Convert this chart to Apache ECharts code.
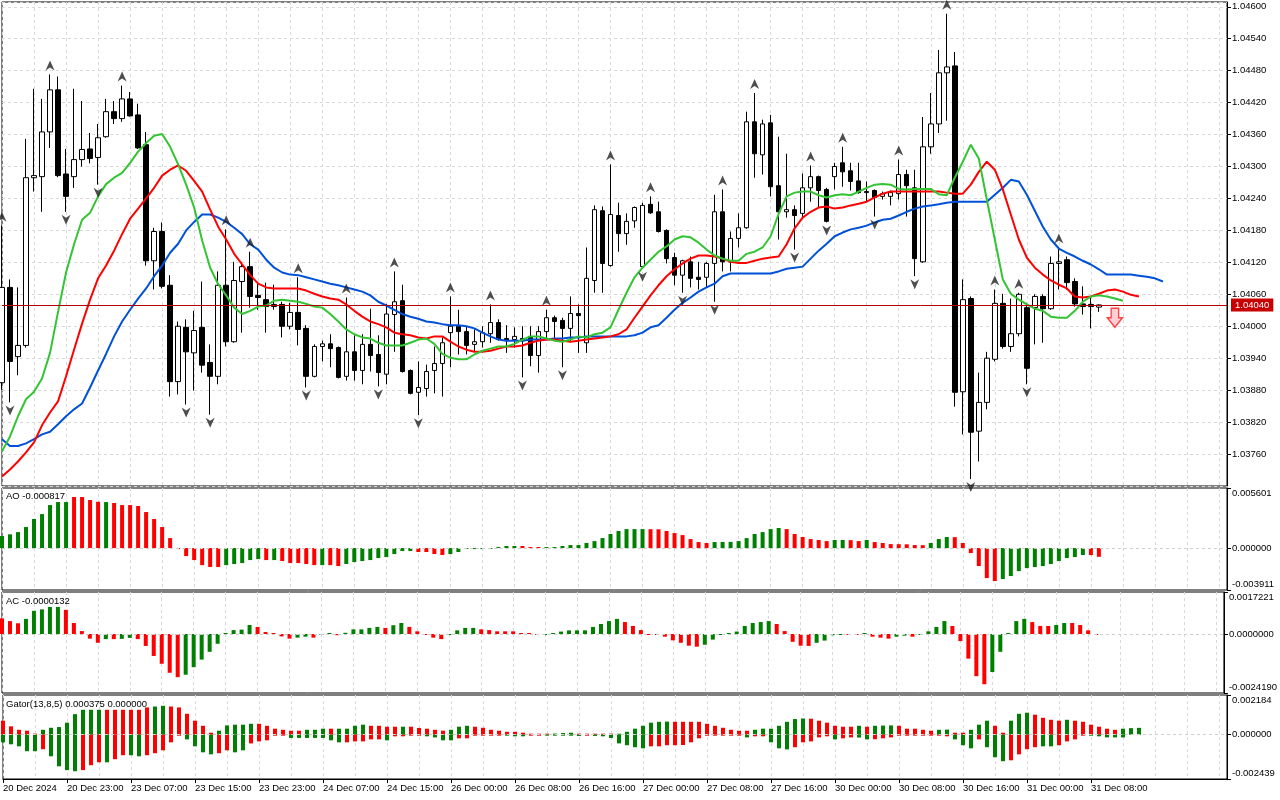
<!DOCTYPE html>
<html>
<head>
<meta charset="utf-8">
<title>EURUSD H1 - Alligator, AO, AC, Gator</title>
<script src="https://cdn.jsdelivr.net/npm/echarts@6/dist/echarts.min.js"></script>
<style>
  html, body { margin: 0; padding: 0; background: #fff; }
  #chart { width: 1280px; height: 800px; }
</style>
</head>
<body>
<div id="chart"></div>
<script>
// time axis labels, one every 8 hourly bars
const timeLabels = ['20 Dec 2024', '20 Dec 23:00', '23 Dec 07:00', '23 Dec 15:00', '23 Dec 23:00',
    '24 Dec 07:00', '24 Dec 15:00', '26 Dec 00:00', '26 Dec 08:00', '26 Dec 16:00', '27 Dec 00:00',
    '27 Dec 08:00', '27 Dec 16:00', '30 Dec 00:00', '30 Dec 08:00', '30 Dec 16:00', '31 Dec 00:00',
    '31 Dec 08:00'];

const opens = [
    1.03894,1.04073,1.03943,1.03964,1.04279,1.04281,1.04365,1.04444,1.04286,1.04281,
    1.04313,1.04333,1.04317,1.04356,1.04403,1.04390,1.04427,1.04397,1.04341,1.04123,
    1.04178,1.04077,1.03896,1.03998,1.03950,1.03998,1.03932,1.03906,1.04077,1.03971,
    1.04084,1.04112,1.04058,1.04050,1.04037,1.04041,1.04000,1.04026,1.03996,1.03906,
    1.03962,1.03967,1.03960,1.03906,1.03952,1.03917,1.03966,1.03947,1.03910,1.04022,
    1.04048,1.03917,1.03876,1.03883,1.03917,1.03930,1.03988,1.04000,1.03990,1.03966,
    1.03971,1.03986,1.04007,1.03977,1.03975,1.03977,1.03981,1.03945,1.03990,1.04016,
    1.04011,1.03996,1.04024,1.03969,1.04086,1.04217,1.04114,1.04208,1.04174,1.04198,
    1.04112,1.04229,1.04215,1.04180,1.04129,1.04096,1.04121,1.04092,1.04092,1.04118,
    1.04215,1.04121,1.04165,1.04185,1.04384,1.04322,1.04382,1.04264,1.04215,1.04219,
    1.04212,1.04260,1.04281,1.04257,1.04281,1.04307,1.04292,1.04273,1.04251,1.04255,
    1.04244,1.04244,1.04249,1.04285,1.04260,1.04121,1.04337,1.04380,1.04476,1.04489,
    1.03877,1.04052,1.03803,1.03857,1.03938,1.04043,1.03962,1.03986,1.04035,1.04035,
    1.04056,1.04033,1.04118,1.04125,1.04084,1.04042,1.04041,1.04036];
const highs = [
    1.04189,1.04088,1.04073,1.04352,1.04446,1.04427,1.04473,1.04469,1.04333,1.04446,
    1.04423,1.04363,1.04380,1.04427,1.04423,1.04452,1.04440,1.04418,1.04365,1.04185,
    1.04195,1.04096,1.04009,1.04013,1.04029,1.04084,1.03966,1.04103,1.04182,1.04121,
    1.04121,1.04140,1.04082,1.04082,1.04078,1.04046,1.04044,1.04092,1.04002,1.03966,
    1.03973,1.03985,1.03962,1.04054,1.03983,1.03985,1.04033,1.03983,1.04042,1.04103,
    1.04078,1.03919,1.03934,1.03928,1.03962,1.03979,1.04056,1.04031,1.04000,1.03994,
    1.04000,1.04041,1.04013,1.04002,1.03998,1.04000,1.04000,1.04000,1.04031,1.04020,
    1.04016,1.04056,1.04041,1.04148,1.04227,1.04225,1.04304,1.04232,1.04212,1.04225,
    1.04232,1.04244,1.04234,1.04182,1.04138,1.04125,1.04131,1.04121,1.04121,1.04247,
    1.04257,1.04178,1.04212,1.04403,1.04438,1.04388,1.04397,1.04356,1.04324,1.04227,
    1.04287,1.04302,1.04283,1.04260,1.04307,1.04337,1.04307,1.04307,1.04272,1.04257,
    1.04253,1.04255,1.04313,1.04294,1.04294,1.04393,1.04438,1.04519,1.04587,1.04515,
    1.04088,1.04056,1.03913,1.03952,1.04069,1.04061,1.04052,1.04063,1.04044,1.04060,
    1.04060,1.04131,1.04148,1.04131,1.04090,1.04075,1.04054,1.04041];
const lows = [
    1.03881,1.03857,1.03908,1.03960,1.04253,1.04215,1.04335,1.04280,1.04215,1.04260,
    1.04300,1.04306,1.04266,1.04354,1.04380,1.04384,1.04394,1.04333,1.04114,1.04069,
    1.04071,1.03868,1.03872,1.03853,1.03879,1.03913,1.03834,1.03891,1.03962,1.03969,
    1.03988,1.04035,1.04031,1.03988,1.04031,1.03979,1.03994,1.03964,1.03885,1.03904,
    1.03934,1.03923,1.03902,1.03898,1.03898,1.03891,1.03915,1.03887,1.03891,1.03952,
    1.03913,1.03872,1.03833,1.03868,1.03874,1.03868,1.03923,1.03947,1.03947,1.03952,
    1.03960,1.03969,1.03973,1.03950,1.03960,1.03904,1.03925,1.03913,1.03975,1.03975,
    1.03923,1.03971,1.03950,1.03950,1.04063,1.04063,1.04112,1.04140,1.04153,1.04185,
    1.04108,1.04211,1.04176,1.04118,1.04077,1.04063,1.04073,1.04069,1.04073,1.04046,
    1.04103,1.04103,1.04148,1.04183,1.04279,1.04285,1.04244,1.04163,1.04204,1.04144,
    1.04204,1.04234,1.04223,1.04195,1.04257,1.04262,1.04255,1.04249,1.04234,1.04206,
    1.04238,1.04227,1.04238,1.04206,1.04094,1.04119,1.04324,1.04363,1.04386,1.03849,
    1.03797,1.03713,1.03746,1.03844,1.03934,1.03958,1.03952,1.03981,1.03891,1.03966,
    1.03969,1.04031,1.04069,1.04069,1.04037,1.04022,1.03996,1.04027];
const closes = [
    1.04073,1.03934,1.03964,1.04279,1.04283,1.04365,1.04444,1.04283,1.04244,1.04313,
    1.04332,1.04315,1.04354,1.04403,1.04390,1.04427,1.04395,1.04335,1.04123,1.04178,
    1.04075,1.03896,1.04000,1.03952,1.03992,1.03927,1.03906,1.04077,1.03971,1.04086,
    1.04112,1.04056,1.04054,1.04037,1.04041,1.04000,1.04026,1.03994,1.03906,1.03962,
    1.03967,1.03958,1.03904,1.03952,1.03917,1.03966,1.03945,1.03913,1.04023,1.04046,
    1.03915,1.03874,1.03885,1.03915,1.03930,1.03969,1.04000,1.03990,1.03964,1.03971,
    1.03988,1.04007,1.03975,1.03973,1.03981,1.03973,1.03945,1.03990,1.04016,1.04009,
    1.03996,1.04024,1.04020,1.04090,1.04219,1.04118,1.04210,1.04174,1.04197,1.04223,
    1.04227,1.04213,1.04178,1.04127,1.04096,1.04123,1.04090,1.04088,1.04118,1.04215,
    1.04121,1.04165,1.04185,1.04384,1.04324,1.04380,1.04262,1.04215,1.04219,1.04208,
    1.04260,1.04281,1.04255,1.04197,1.04300,1.04290,1.04272,1.04251,1.04253,1.04242,
    1.04249,1.04251,1.04285,1.04264,1.04127,1.04337,1.04380,1.04476,1.04487,1.03876,
    1.04050,1.03801,1.03857,1.03940,1.04043,1.03962,1.03986,1.04060,1.03921,1.04056,
    1.04033,1.04118,1.04121,1.04082,1.04042,1.04037,1.04037,1.04040];

// Alligator lines (already shifted forward: jaw 8, teeth 5, lips 3 bars)
const jaw = [
    1.03788,1.03775,1.03775,1.03780,1.03788,1.03797,1.03802,1.03816,1.03831,1.03844,
    1.03855,1.03885,1.03917,1.03948,1.03981,1.04009,1.04031,1.04052,1.04071,1.04094,
    1.04114,1.04138,1.04155,1.04180,1.04196,1.04210,1.04210,1.04204,1.04196,1.04185,
    1.04173,1.04154,1.04144,1.04125,1.04110,1.04101,1.04097,1.04096,1.04092,1.04088,
    1.04084,1.04080,1.04077,1.04073,1.04069,1.04065,1.04058,1.04046,1.04039,1.04031,
    1.04023,1.04018,1.04014,1.04009,1.04007,1.04004,1.04002,1.04002,1.04000,1.03996,
    1.03988,1.03981,1.03975,1.03973,1.03973,1.03973,1.03975,1.03975,1.03975,1.03977,
    1.03977,1.03979,1.03979,1.03981,1.03981,1.03981,1.03981,1.03981,1.03981,1.03983,
    1.03988,1.03998,1.04002,1.04016,1.04031,1.04044,1.04054,1.04065,1.04073,1.04080,
    1.04094,1.04099,1.04099,1.04099,1.04099,1.04099,1.04099,1.04103,1.04108,1.04110,
    1.04112,1.04127,1.04142,1.04155,1.04169,1.04176,1.04182,1.04185,1.04189,1.04195,
    1.04200,1.04202,1.04208,1.04215,1.04221,1.04225,1.04227,1.04229,1.04232,1.04234,
    1.04234,1.04234,1.04234,1.04234,1.04247,1.04260,1.04275,1.04272,1.04247,1.04217,
    1.04187,1.04163,1.04146,1.04138,1.04131,1.04123,1.04116,1.04107,1.04097,1.04097,
    1.04097,1.04097,1.04095,1.04093,1.04090,1.04084];
const teeth = [
    1.03718,1.03731,1.03746,1.03763,1.03782,1.03814,1.03838,1.03859,1.03906,1.03956,
    1.04005,1.04050,1.04090,1.04114,1.04142,1.04173,1.04202,1.04221,1.04240,1.04260,
    1.04283,1.04294,1.04302,1.04292,1.04273,1.04253,1.04219,1.04187,1.04163,1.04136,
    1.04116,1.04096,1.04080,1.04073,1.04071,1.04071,1.04071,1.04071,1.04067,1.04061,
    1.04056,1.04052,1.04050,1.04041,1.04029,1.04018,1.04009,1.04004,1.03998,1.03988,
    1.03985,1.03983,1.03979,1.03977,1.03981,1.03981,1.03971,1.03962,1.03956,1.03952,
    1.03952,1.03954,1.03958,1.03962,1.03962,1.03964,1.03969,1.03973,1.03975,1.03975,
    1.03973,1.03971,1.03973,1.03975,1.03977,1.03979,1.03981,1.03985,1.03994,1.04016,
    1.04037,1.04058,1.04077,1.04094,1.04107,1.04118,1.04127,1.04133,1.04133,1.04131,
    1.04127,1.04121,1.04119,1.04119,1.04123,1.04127,1.04129,1.04131,1.04154,1.04184,
    1.04204,1.04215,1.04223,1.04225,1.04221,1.04223,1.04227,1.04230,1.04234,1.04242,
    1.04249,1.04253,1.04253,1.04253,1.04253,1.04253,1.04253,1.04253,1.04251,1.04249,
    1.04249,1.04266,1.04290,1.04309,1.04294,1.04257,1.04210,1.04163,1.04129,1.04110,
    1.04097,1.04086,1.04078,1.04071,1.04056,1.04054,1.04056,1.04061,1.04067,1.04069,
    1.04065,1.04059,1.04056];
const lips = [
    1.03765,1.03793,1.03831,1.03863,1.03877,1.03902,1.03950,1.04027,1.04101,1.04154,
    1.04200,1.04213,1.04244,1.04267,1.04279,1.04288,1.04307,1.04328,1.04344,1.04358,
    1.04361,1.04337,1.04304,1.04266,1.04223,1.04161,1.04110,1.04079,1.04058,1.04035,
    1.04023,1.04029,1.04037,1.04039,1.04048,1.04050,1.04048,1.04046,1.04042,1.04037,
    1.04035,1.04023,1.04009,1.03994,1.03985,1.03979,1.03977,1.03969,1.03964,1.03964,
    1.03964,1.03969,1.03975,1.03977,1.03967,1.03948,1.03941,1.03938,1.03938,1.03947,
    1.03954,1.03958,1.03962,1.03962,1.03967,1.03975,1.03981,1.03981,1.03977,1.03973,
    1.03971,1.03975,1.03981,1.03979,1.03985,1.03988,1.03998,1.04031,1.04063,1.04092,
    1.04110,1.04125,1.04140,1.04150,1.04163,1.04169,1.04167,1.04157,1.04144,1.04133,
    1.04127,1.04123,1.04123,1.04136,1.04140,1.04148,1.04169,1.04211,1.04244,1.04251,
    1.04253,1.04253,1.04246,1.04242,1.04246,1.04248,1.04246,1.04253,1.04260,1.04266,
    1.04267,1.04266,1.04258,1.04257,1.04258,1.04258,1.04258,1.04248,1.04246,1.04279,
    1.04309,1.04341,1.04315,1.04238,1.04163,1.04088,1.04061,1.04050,1.04041,1.04033,
    1.04029,1.04018,1.04016,1.04016,1.04029,1.04046,1.04056,1.04058,1.04056,1.04052,
    1.04048];

// bar indexes carrying a fractal
const fractalUp = [0, 6, 15, 28, 31, 37, 43, 49, 56, 61, 68, 76, 81, 90, 94, 101, 105, 112, 118, 124, 127, 132];
const fractalDown = [1, 8, 12, 23, 26, 38, 47, 52, 65, 70, 80, 85, 89, 99, 103, 109, 114, 121, 128];
const sellSignal = [[139, 1.04016]];

const ao = [
    0.00112,0.00128,0.00149,0.00196,0.00271,0.00317,0.00401,0.00429,0.00429,0.00476,
    0.00476,0.00448,0.00432,0.00429,0.00420,0.00401,0.00401,0.00392,0.00336,0.00271,
    0.00196,0.00093,-0.00002,-0.00075,-0.00112,-0.00159,-0.00177,-0.00177,-0.00159,-0.00149,
    -0.00140,-0.00112,-0.00103,-0.00112,-0.00112,-0.00121,-0.00140,-0.00140,-0.00149,-0.00159,
    -0.00159,-0.00159,-0.00168,-0.00149,-0.00131,-0.00121,-0.00112,-0.00093,-0.00084,-0.00056,
    -0.00028,-0.00028,-0.00037,-0.00037,-0.00056,-0.00065,-0.00056,-0.00037,-0.00009,-0.00005,
    -0.00005,-0.00002,0.00009,0.00019,0.00019,0.00019,0.00009,0.00002,0.00009,0.00009,
    0.00019,0.00028,0.00028,0.00047,0.00065,0.00093,0.00131,0.00159,0.00177,0.00177,
    0.00177,0.00176,0.00175,0.00159,0.00140,0.00121,0.00084,0.00056,0.00047,0.00056,
    0.00057,0.00058,0.00065,0.00093,0.00131,0.00149,0.00177,0.00187,0.00177,0.00131,
    0.00103,0.00084,0.00075,0.00065,0.00075,0.00076,0.00074,0.00065,0.00075,0.00056,
    0.00047,0.00037,0.00036,0.00035,0.00028,0.00027,0.00047,0.00084,0.00103,0.00102,
    0.00047,-0.00047,-0.00168,-0.00280,-0.00308,-0.00289,-0.00261,-0.00215,-0.00187,-0.00177,
    -0.00168,-0.00149,-0.00121,-0.00093,-0.00084,-0.00065,-0.00066,-0.000817];
const aoColors = 'GGGGGGGGGR' + 'RRRGRRRRRR' + 'RRRRRRRRGG' + 'GGGRGRRRRR' + 'GRRGGGGGGG' +
    'GGRRRRGGGG' + 'GGGGGRRRGG' + 'GGGGGGGGGG' + 'GRRRRRRRRG' + 'GGGGGGGGRR' +
    'RRRRGGRRGR' + 'RRRRRRGGGR' + 'RRRRRGGGGG' + 'GGGGGGRR';

const ac = [
    0.00064,0.00053,0.00044,0.00062,0.00095,0.00101,0.00111,0.00111,0.00099,0.00045,
    0.00012,-0.00019,-0.00036,-0.00021,-0.00021,-0.00020,-0.00016,-0.00021,-0.00049,-0.00090,
    -0.00122,-0.00159,-0.00177,-0.00167,-0.00136,-0.00105,-0.00073,-0.00040,0.00001,0.00016,
    0.00018,0.00037,0.00029,0.00008,0.00003,-0.00010,-0.00019,-0.00015,-0.00011,-0.00015,
    -0.00004,0.00001,-0.00005,0.00005,0.00019,0.00019,0.00025,0.00029,0.00025,0.00036,
    0.00045,0.00029,0.00011,-0.00003,-0.00015,-0.00021,-0.00003,0.00015,0.00025,0.00025,
    0.00019,0.00016,0.00011,0.00011,0.00011,0.00003,0.00001,-0.00004,-0.00002,0.00001,
    0.00010,0.00015,0.00015,0.00015,0.00029,0.00041,0.00053,0.00062,0.00049,0.00033,
    0.00016,-0.00001,-0.00003,-0.00011,-0.00026,-0.00036,-0.00048,-0.00052,-0.00044,-0.00023,
    -0.00003,0.00001,0.00010,0.00033,0.00045,0.00049,0.00053,0.00041,0.00012,-0.00032,
    -0.00048,-0.00049,-0.00036,-0.00027,-0.00005,-0.00003,-0.00001,-0.00003,0.00001,-0.00011,
    -0.00015,-0.00019,-0.00011,-0.00007,-0.00011,-0.00004,0.00011,0.00029,0.00053,0.00033,
    -0.00029,-0.00101,-0.00173,-0.00206,-0.00156,-0.00073,0.00001,0.00053,0.00062,0.00049,
    0.00033,0.00033,0.00037,0.00045,0.00045,0.00037,0.00015,-0.0000132];
const acColors = 'RRRGGGGGRR' + 'RRRGRGGRRR' + 'RRRGGGGGGG' + 'GGRRRRRGGR' + 'GGRGGGGGRG' +
    'GRRRRRGGGG' + 'RRRRRRRRGG' + 'GGGGGGGGRR' + 'RRRRRRRRGG' + 'GGGGGGGRRR' +
    'RRGGGGRRGR' + 'RRGGRGGGGR' + 'RRRRGGGGGR' + 'RRGGRRRR';

const gatorUp = [
    0.00077,0.00046,0.00027,0.00022,0.00004,0.00027,0.00038,0.00042,0.00066,0.00113,
    0.00137,0.00137,0.00137,0.00137,0.00137,0.00137,0.00137,0.00137,0.00150,0.00155,
    0.00159,0.00155,0.00150,0.00115,0.00077,0.00049,0.00011,0.00022,0.00051,0.00055,
    0.00055,0.00060,0.00060,0.00049,0.00033,0.00027,0.00022,0.00022,0.00027,0.00027,
    0.00033,0.00033,0.00033,0.00033,0.00049,0.00055,0.00049,0.00049,0.00044,0.00044,
    0.00044,0.00044,0.00037,0.00033,0.00027,0.00022,0.00027,0.00044,0.00049,0.00044,
    0.00038,0.00027,0.00022,0.00016,0.00016,0.00011,0.00005,0.00005,0.00005,0.00006,
    0.00009,0.00011,0.00005,0.00005,0.00004,0.00002,0.00001,0.00004,0.00016,0.00033,
    0.00049,0.00066,0.00071,0.00072,0.00071,0.00071,0.00071,0.00071,0.00060,0.00049,
    0.00038,0.00027,0.00022,0.00022,0.00027,0.00033,0.00033,0.00049,0.00071,0.00086,
    0.00089,0.00088,0.00077,0.00066,0.00049,0.00044,0.00044,0.00049,0.00044,0.00049,
    0.00050,0.00051,0.00049,0.00033,0.00033,0.00027,0.00022,0.00027,0.00028,0.00011,
    0.00011,0.00027,0.00055,0.00077,0.00049,0.00011,0.00077,0.00115,0.00121,0.00110,
    0.00093,0.00082,0.00077,0.00082,0.00077,0.00071,0.00055,0.00044,0.00033,0.00027,
    0.00033,0.00036,0.000375];
const gatorUpColors = 'RRRRRGGGGG' + 'GGGRRRRRRG' + 'GRRRRRRGGG' + 'GGRRRRRRGG' + 'GRGGGGRRRR' +
    'GRRRRRGGGR' + 'RRRRRRRRRG' + 'GGRRRRRGGG' + 'GGGGRRRRRR' + 'RRRRGGGGGG' +
    'GRRRRRRGRG' + 'GGRRRRRGGR' + 'RGGGRRGGGR' + 'RRRGRRRRRR' + 'GGG';

const gatorDown = [
    -0.00042,-0.00053,-0.00064,-0.00091,-0.00091,-0.00080,-0.00119,-0.00174,-0.00195,-0.00201,
    -0.00195,-0.00168,-0.00152,-0.00152,-0.00135,-0.00113,-0.00113,-0.00119,-0.00113,-0.00102,
    -0.00086,-0.00042,-0.00004,-0.00026,-0.00064,-0.00097,-0.00108,-0.00102,-0.00086,-0.00097,
    -0.00086,-0.00048,-0.00037,-0.00031,-0.00005,-0.00004,-0.00018,-0.00018,-0.00018,-0.00018,
    -0.00018,-0.00031,-0.00042,-0.00042,-0.00037,-0.00037,-0.00026,-0.00026,-0.00031,-0.00009,
    -0.00009,-0.00004,-0.00002,-0.00009,-0.00015,-0.00031,-0.00031,-0.00020,-0.00020,-0.00002,
    -0.00002,-0.00002,-0.00002,-0.00004,-0.00009,-0.00009,-0.00005,-0.00002,-0.00002,-0.00002,
    -0.00002,-0.00004,-0.00007,-0.00004,-0.00007,-0.00009,-0.00018,-0.00048,-0.00058,-0.00069,
    -0.00075,-0.00064,-0.00064,-0.00058,-0.00058,-0.00057,-0.00042,-0.00020,-0.00004,-0.00003,
    -0.00002,-0.00002,-0.00002,-0.00015,-0.00009,-0.00009,-0.00042,-0.00075,-0.00081,-0.00069,
    -0.00042,-0.00037,-0.00015,-0.00009,-0.00026,-0.00020,-0.00015,-0.00016,-0.00026,-0.00025,
    -0.00020,-0.00015,-0.00002,-0.00002,-0.00002,-0.00002,-0.00002,-0.00002,-0.00009,-0.00026,
    -0.00058,-0.00075,-0.00026,-0.00069,-0.00124,-0.00146,-0.00141,-0.00108,-0.00080,-0.00069,
    -0.00064,-0.00064,-0.00058,-0.00037,-0.00026,-0.00004,-0.00005,-0.00009,-0.00015,-0.00015,
    -0.00015];
const gatorDownColors = 'GGGGGRGGGG' + 'RRRGRRGGRR' + 'RRRGGGGRRG' + 'GRRRRRGGGG' + 'GGGRRRRRGR' +
    'RRRGGGGRRR' + 'RRRGGGRRGG' + 'GGGRGGGGGG' + 'GRRRRRRRRR' + 'RRRGRRGGGR' +
    'RRRRGRRGGR' + 'RRRRRRRRRG' + 'GGRGGGRRRR' + 'GGRRRRGGGG' + 'G';

// right-hand scale limits of the indicator windows
const aoTicks = [-0.003911, 0, 0.005601];
const acTicks = [-0.002419, 0, 0.0017221];
const gatorTicks = [-0.002439, 0, 0.002184];

window.onload = function () {
    const FONT = '"Liberation Sans", Arial, sans-serif';
    const GREEN = '#008000', RED = '#ff0000';
    const GRID_LINE = { color: '#d9d9d9', type: [3, 3], width: 1 };
    const SLOT_COUNT = 154;
    let slots = [];
    for (let i = 0; i < SLOT_COUNT; i++) slots.push(i);

    let candleData = opens.map((o, i) => [o, closes[i], lows[i], highs[i]]);
    let upData = fractalUp.map(i => [i, highs[i]]);
    let downData = fractalDown.map(i => [i, lows[i]]);
    let lastPrice = closes[closes.length - 1];

    function pick(colors) {
        return p => colors[p.dataIndex] === 'G' ? GREEN : RED;
    }

    // a time label sits on every 8th bar that has one
    function labelled(i) {
        return i % 8 === 0 && timeLabels[i / 8] !== undefined;
    }

    function xAxisFor(idx, bottom) {
        return {
            type: 'category', gridIndex: idx, data: slots, boundaryGap: false,
            axisLine: { show: bottom, onZero: false, lineStyle: { color: '#000' } },
            axisTick: { show: bottom, interval: labelled, length: 4, lineStyle: { color: '#000' } },
            axisLabel: {
                show: bottom, interval: labelled, align: 'left', margin: 4, color: '#000',
                fontSize: 9.5, fontFamily: FONT,
                formatter: (v, i) => timeLabels[i / 8] || ''
            },
            splitLine: { show: true, interval: 3, lineStyle: GRID_LINE }
        };
    }

    function subYAxis(idx, ticks, digits) {
        let lo = ticks[0], hi = ticks[ticks.length - 1];
        let txt = { fontSize: 9.5, fontFamily: FONT, color: '#000' };
        return {
            type: 'value', gridIndex: idx, position: 'right', min: lo, max: hi,
            axisLine: { show: true, lineStyle: { color: '#000' } },
            axisTick: { show: true, length: 4, customValues: ticks, lineStyle: { color: '#000' } },
            axisLabel: {
                customValues: ticks, margin: 5, color: '#000', fontSize: 9.5, fontFamily: FONT,
                formatter: v => {
                    let s = v.toFixed(digits);
                    if (Math.abs(v - hi) < 1e-12) return '{t|' + s + '}';
                    if (Math.abs(v - lo) < 1e-12) return '{b|' + s + '}';
                    return s;
                },
                rich: {
                    t: Object.assign({ padding: [11, 0, 0, 0] }, txt),
                    b: Object.assign({ padding: [0, 0, 11, 0] }, txt)
                }
            },
            splitLine: { show: false }
        };
    }

    let zeroLine = {
        silent: true, symbol: 'none', label: { show: false },
        lineStyle: { color: '#cfcfcf', type: [3, 3], width: 1 },
        data: [{ yAxis: 0 }]
    };

    let titleStyle = { fontSize: 9.5, fontWeight: 'normal', color: '#000', fontFamily: FONT };
    let lastDown = gatorDown[gatorUp.length - 1] || 0;

    let option = {
        animation: false,
        backgroundColor: '#ffffff',
        title: [
            { text: 'AO ' + ao[ao.length - 1].toFixed(6), left: 6, top: 491, padding: 0, textStyle: titleStyle },
            { text: 'AC ' + ac[ac.length - 1].toFixed(7), left: 6, top: 596, padding: 0, textStyle: titleStyle },
            {
                text: 'Gator(13,8,5) ' + gatorUp[gatorUp.length - 1].toFixed(6) + ' ' + Math.abs(lastDown).toFixed(6),
                left: 6, top: 699, padding: 0, textStyle: titleStyle
            }
        ],
        grid: [
            { left: 2, right: 53, top: 2, height: 484 },
            { left: 2, right: 53, top: 488, height: 102 },
            { left: 2, right: 53, top: 592, height: 101 },
            { left: 2, right: 53, top: 695, height: 84 }
        ].map(g => Object.assign(g, { show: true, borderColor: '#000', borderWidth: 1 })),
        xAxis: [xAxisFor(0, false), xAxisFor(1, false), xAxisFor(2, false), xAxisFor(3, true)],
        yAxis: [
            {
                type: 'value', gridIndex: 0, position: 'right', min: 1.037, max: 1.04609, interval: 0.0006,
                axisLine: { show: true, lineStyle: { color: '#000' } },
                axisTick: { show: true, length: 4, lineStyle: { color: '#000' } },
                axisLabel: {
                    color: '#000', fontSize: 9.5, fontFamily: FONT, margin: 5,
                    showMinLabel: false, showMaxLabel: false,
                    formatter: v => v.toFixed(5)
                },
                splitLine: { show: true, lineStyle: GRID_LINE }
            },
            subYAxis(1, aoTicks, 6),
            subYAxis(2, acTicks, 7),
            subYAxis(3, gatorTicks, 6)
        ],
        series: [
            {
                name: 'EURUSD', type: 'candlestick', xAxisIndex: 0, yAxisIndex: 0,
                data: candleData, barWidth: 5,
                itemStyle: { color: '#ffffff', color0: '#000000', borderColor: '#000000', borderColor0: '#000000', borderWidth: 1 }
            },
            {
                name: 'Jaw', type: 'line', xAxisIndex: 0, yAxisIndex: 0, data: jaw,
                showSymbol: false, lineStyle: { color: '#0050d8', width: 2 }, z: 3,
                markLine: {
                    silent: true, symbol: 'none', precision: 5,
                    lineStyle: { color: '#b40000', type: 'solid', width: 1 },
                    label: {
                        show: true, position: 'end', distance: 4,
                        formatter: () => lastPrice.toFixed(5),
                        backgroundColor: '#c80000', color: '#ffffff', padding: [2, 4, 1, 4],
                        fontSize: 9.5, fontFamily: FONT
                    },
                    data: [{ yAxis: lastPrice }]
                }
            },
            {
                name: 'Teeth', type: 'line', xAxisIndex: 0, yAxisIndex: 0, data: teeth,
                showSymbol: false, lineStyle: { color: '#ff0000', width: 2 }, z: 3
            },
            {
                name: 'Lips', type: 'line', xAxisIndex: 0, yAxisIndex: 0, data: lips,
                showSymbol: false, lineStyle: { color: '#33c433', width: 2 }, z: 3
            },
            {
                name: 'Fractal up', type: 'scatter', xAxisIndex: 0, yAxisIndex: 0, data: upData,
                symbol: 'path://M5,0 L10,10 L5,7 L0,10 Z', symbolSize: [9, 10], symbolOffset: [0, -9],
                itemStyle: { color: '#222222' }, z: 4
            },
            {
                name: 'Fractal down', type: 'scatter', xAxisIndex: 0, yAxisIndex: 0, data: downData,
                symbol: 'path://M0,0 L5,3 L10,0 L5,10 Z', symbolSize: [9, 10], symbolOffset: [0, 8],
                itemStyle: { color: '#222222' }, z: 4
            },
            {
                name: 'Sell', type: 'scatter', xAxisIndex: 0, yAxisIndex: 0, data: sellSignal,
                symbol: 'path://M4,0 L12,0 L12,10 L16,10 L8,20 L0,10 L4,10 Z', symbolSize: [15, 19],
                itemStyle: { color: '#ffc2cc', borderColor: '#ff1a1a', borderWidth: 1.5 }, z: 4
            },
            {
                name: 'AO', type: 'bar', xAxisIndex: 1, yAxisIndex: 1, data: ao,
                barWidth: 4, barMinHeight: 1, itemStyle: { color: pick(aoColors) }, markLine: zeroLine
            },
            {
                name: 'AC', type: 'bar', xAxisIndex: 2, yAxisIndex: 2, data: ac,
                barWidth: 4, barMinHeight: 1, itemStyle: { color: pick(acColors) }, markLine: zeroLine
            },
            {
                name: 'Gator up', type: 'bar', xAxisIndex: 3, yAxisIndex: 3, data: gatorUp,
                barWidth: 4, barMinHeight: 1, barGap: '-100%', itemStyle: { color: pick(gatorUpColors) },
                markLine: zeroLine
            },
            {
                name: 'Gator down', type: 'bar', xAxisIndex: 3, yAxisIndex: 3, data: gatorDown,
                barWidth: 4, barMinHeight: 1, barGap: '-100%', itemStyle: { color: pick(gatorDownColors) }
            }
        ]
    };

    let chart = echarts.init(document.getElementById('chart'));
    chart.setOption(option);
};
</script>
</body>
</html>
